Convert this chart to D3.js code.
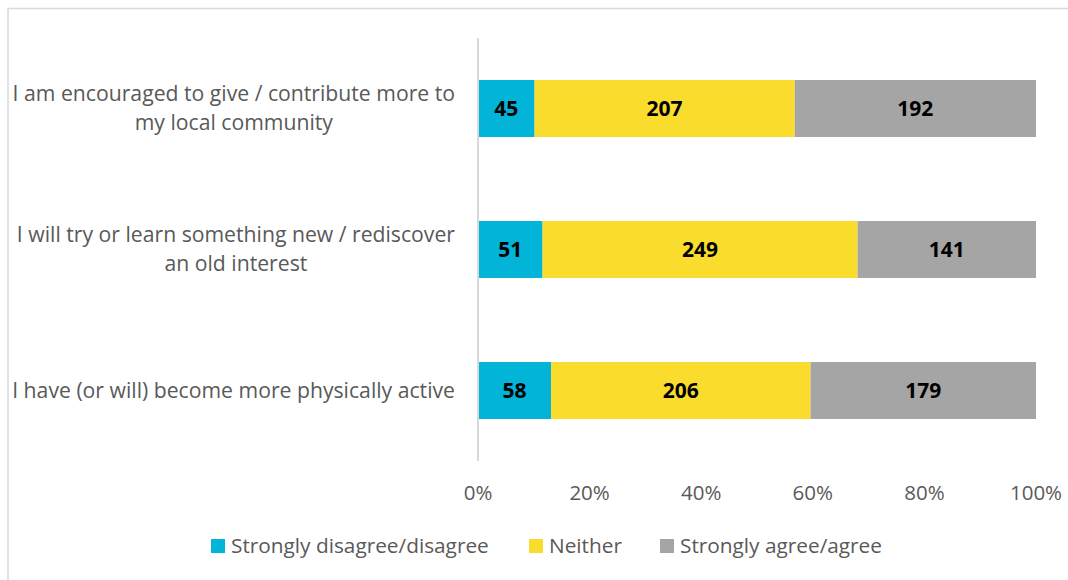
<!DOCTYPE html>
<html>
<head>
<meta charset="utf-8">
<script src="https://cdn.jsdelivr.net/npm/d3@7"></script>
<style>
  body { margin: 0; background: #fff; }
  text { font-family: "Open Sans", Lato, sans-serif; }
</style>
</head>
<body>
<div id="chart"></div>
<script>
const categories = [
    ["I am encouraged to give / contribute more to", "my local community"],
    ["I will try or learn something new / rediscover", "an old interest"],
    ["I have (or will) become more physically active"]
];
const disagree = [45, 51, 58];
const neither = [207, 249, 206];
const agree = [192, 141, 179];
const seriesNames = ["Strongly disagree/disagree", "Neither", "Strongly agree/agree"];
const colors = ["#02B4D8", "#FADC2D", "#A5A5A5"];
const ticks = [0, 0.2, 0.4, 0.6, 0.8, 1];

const W = 1068, H = 580;
const svg = d3.select("#chart").append("svg")
    .attr("width", W)
    .attr("height", H);

// chart frame
svg.append("rect")
    .attr("x", 8).attr("y", 8.5)
    .attr("width", W + 10).attr("height", H + 10)
    .attr("fill", "none")
    .attr("stroke", "#d9d9d9")
    .attr("stroke-width", 1.5);

const x = d3.scaleLinear().domain([0, 1]).range([478, 1036]);
const y = d3.scaleBand()
    .domain(d3.range(categories.length))
    .range([38, 461])
    .paddingInner(0.596)
    .paddingOuter(0.298);

const rows = categories.map((c, i) => {
    const vals = [disagree[i], neither[i], agree[i]];
    const total = d3.sum(vals);
    let acc = 0;
    return vals.map((v, k) => {
        const seg = { row: i, k, v, x0: acc / total, x1: (acc + v) / total };
        acc += v;
        return seg;
    });
});

const segs = rows.flat();

svg.selectAll("rect.bar")
    .data(segs)
    .join("rect")
    .attr("class", "bar")
    .attr("x", d => x(d.x0))
    .attr("y", d => y(d.row))
    .attr("width", d => x(d.x1) - x(d.x0))
    .attr("height", y.bandwidth())
    .attr("fill", d => colors[d.k]);

svg.selectAll("text.val")
    .data(segs)
    .join("text")
    .attr("class", "val")
    .attr("x", d => (x(d.x0) + x(d.x1)) / 2)
    .attr("y", d => y(d.row) + y.bandwidth() / 2)
    .attr("dy", "0.35em")
    .attr("text-anchor", "middle")
    .attr("font-size", 21)
    .attr("font-weight", "bold")
    .attr("fill", "#000")
    .text(d => d.v);

// vertical axis line
svg.append("line")
    .attr("x1", x(0)).attr("x2", x(0))
    .attr("y1", 38).attr("y2", 461)
    .attr("stroke", "#d9d9d9")
    .attr("stroke-width", 2);

// category labels
const catG = svg.selectAll("g.cat")
    .data(categories)
    .join("g")
    .attr("class", "cat");

catG.each(function(lines, i) {
    const cy = y(i) + y.bandwidth() / 2;
    const lh = 29;
    d3.select(this).selectAll("text")
        .data(lines)
        .join("text")
        .attr("x", 455)
        .attr("y", (d, j) => cy + (j - (lines.length - 1) / 2) * lh)
        .attr("dy", "0.35em")
        .attr("text-anchor", (d, j) => j === 0 ? "end" : "middle")
        .attr("font-size", 21.2)
        .attr("fill", "#595959")
        .text(d => d);
});

// center second lines under first lines
catG.each(function() {
    const t = d3.select(this).selectAll("text").nodes();
    if (t.length > 1) {
        const w = t[0].getComputedTextLength();
        d3.select(t[1]).attr("x", 455 - w / 2);
    }
});

// x axis tick labels
svg.append("g")
    .selectAll("text")
    .data(ticks)
    .join("text")
    .attr("x", d => x(d))
    .attr("y", 493)
    .attr("dy", "0.35em")
    .attr("text-anchor", "middle")
    .attr("font-size", 20.5)
    .attr("fill", "#595959")
    .text(d => d3.format(".0%")(d));

// legend
const legendX = [211, 529, 660];
const leg = svg.append("g").selectAll("g")
    .data(seriesNames)
    .join("g")
    .attr("transform", (d, i) => `translate(${legendX[i]}, 546)`);

leg.append("rect")
    .attr("x", 0).attr("y", -7)
    .attr("width", 14).attr("height", 14)
    .attr("fill", (d, i) => colors[i]);

leg.append("text")
    .attr("x", 20)
    .attr("dy", "0.35em")
    .attr("font-size", 20.8)
    .attr("fill", "#595959")
    .text(d => d);
</script>
</body>
</html>
